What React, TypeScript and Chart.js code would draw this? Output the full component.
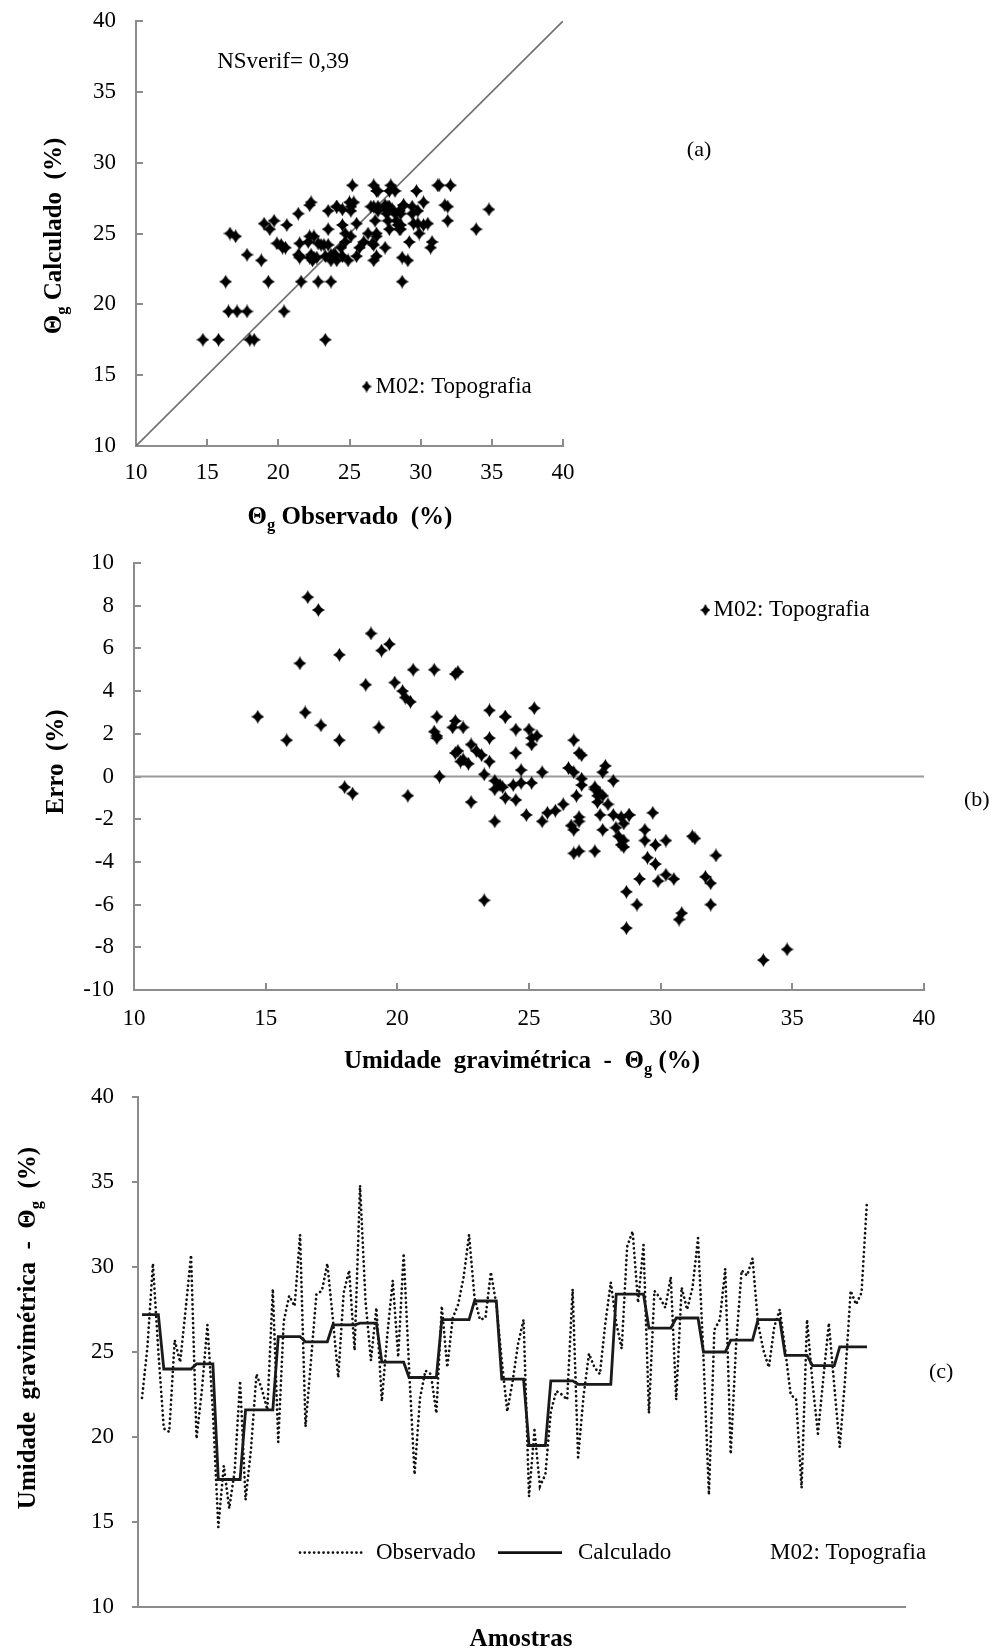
import React, { useEffect, useRef } from 'react';
import { Chart, registerables } from 'chart.js';

Chart.register(...registerables);

// ---- data (sample order follows panel c) ----
const observado: number[] = [
  22.3, 25.3, 30.2, 25.0,
  20.5, 20.3, 25.7, 24.4, 27.5, 30.7,
  19.9, 22.8, 26.6, 21.5,
  14.7, 18.3, 15.8, 18.0, 23.3,
  16.3, 19.3, 23.7, 22.8, 21.6, 28.7,
  19.7, 26.8, 28.3, 27.7, 31.9,
  20.6, 24.5, 28.4, 28.6, 30.2,
  27.0, 23.5, 28.5, 29.8, 25.1,
  34.8, 28.0, 24.5, 27.6,
  22.1, 26.0, 29.2, 24.7, 30.8,
  24.0, 17.8, 22.3, 23.9, 23.7, 21.4,
  27.7, 24.1, 27.0, 27.8, 29.4, 31.9,
  28.2, 26.9, 27.0, 29.7, 27.8,
  24.5, 21.5, 23.3, 25.5, 26.9,
  16.5, 20.4, 17.1, 17.8,
  21.5, 22.7, 22.5, 22.2, 28.7,
  18.8, 22.4, 24.9, 24.1, 23.7, 26.7, 29.1,
  26.7, 25.2, 31.2, 32.1, 27.9, 31.3,
  21.4, 28.6, 28.2, 27.6, 29.4,
  22.2, 28.8, 27.5, 28.8, 31.7,
  24.7, 16.6, 26.3, 26.9, 29.9,
  19.0, 25.5, 29.8, 29.5, 30.5,
  26.7, 25.1, 24.1, 26.5, 27.5,
  25.1, 22.5, 22.2, 17.0, 26.9,
  23.2, 20.2, 23.5, 26.7, 23.0,
  19.4, 23.5, 28.6, 27.8, 28.5, 33.9,
];

const calculado: number[] = [
  27.2, 27.2, 27.2, 27.2,
  24.0, 24.0, 24.0, 24.0, 24.0, 24.0,
  24.3, 24.3, 24.3, 24.3,
  17.5, 17.5, 17.5, 17.5, 17.5,
  21.6, 21.6, 21.6, 21.6, 21.6, 21.6,
  25.9, 25.9, 25.9, 25.9, 25.9,
  25.6, 25.6, 25.6, 25.6, 25.6,
  26.6, 26.6, 26.6, 26.6, 26.6,
  26.7, 26.7, 26.7, 26.7,
  24.4, 24.4, 24.4, 24.4, 24.4,
  23.5, 23.5, 23.5, 23.5, 23.5, 23.5,
  26.9, 26.9, 26.9, 26.9, 26.9, 26.9,
  28.0, 28.0, 28.0, 28.0, 28.0,
  23.4, 23.4, 23.4, 23.4, 23.4,
  19.5, 19.5, 19.5, 19.5,
  23.3, 23.3, 23.3, 23.3, 23.3,
  23.1, 23.1, 23.1, 23.1, 23.1, 23.1, 23.1,
  28.4, 28.4, 28.4, 28.4, 28.4, 28.4,
  26.4, 26.4, 26.4, 26.4, 26.4,
  27.0, 27.0, 27.0, 27.0, 27.0,
  25.0, 25.0, 25.0, 25.0, 25.0,
  25.7, 25.7, 25.7, 25.7, 25.7,
  26.9, 26.9, 26.9, 26.9, 26.9,
  24.8, 24.8, 24.8, 24.8, 24.8,
  24.2, 24.2, 24.2, 24.2, 24.2,
  25.3, 25.3, 25.3, 25.3, 25.3, 25.3,
];

const thetaRange = [10, 40];
const thetaStep = 5;
const erroRange = [-10, 10];
const erroStep = 2;
const linha11 = [10, 40];
const nsVerif = 'NSverif= 0,39';
const serieNome = 'M02: Topografia';
const legObs = 'Observado';
const legCalc = 'Calculado';

const FONT = "'Liberation Serif', 'Times New Roman', serif";
const AXIS = '#8c8c8c';
const W = 997;

Chart.defaults.font.family = FONT;
Chart.defaults.color = '#000';

function makeDiamond(w: number, h: number): HTMLCanvasElement {
  const c = document.createElement('canvas');
  c.width = w;
  c.height = h;
  const g = c.getContext('2d')!;
  const cx = w / 2, cy = h / 2;
  g.fillStyle = '#000';
  g.beginPath();
  g.moveTo(cx, 0);
  g.quadraticCurveTo(cx + w * 0.14, cy - h * 0.14, w, cy);
  g.quadraticCurveTo(cx + w * 0.14, cy + h * 0.14, cx, h);
  g.quadraticCurveTo(cx - w * 0.14, cy + h * 0.14, 0, cy);
  g.quadraticCurveTo(cx - w * 0.14, cy - h * 0.14, cx, 0);
  g.closePath();
  g.fill();
  return c;
}

type Part = { t: string; sub?: boolean };

function drawRich(ctx: CanvasRenderingContext2D, parts: Part[], cx: number, cy: number, size: number, bold: boolean, rotate = false) {
  ctx.save();
  ctx.translate(cx, cy);
  if (rotate) ctx.rotate(-Math.PI / 2);
  const f = (s: number) => `${bold ? 'bold ' : ''}${s}px ${FONT}`;
  let total = 0;
  const widths = parts.map((p) => {
    ctx.font = f(p.sub ? size * 0.66 : size);
    const w = ctx.measureText(p.t).width;
    total += w;
    return w;
  });
  let x = -total / 2;
  ctx.textBaseline = 'middle';
  ctx.textAlign = 'left';
  ctx.fillStyle = '#000';
  parts.forEach((p, i) => {
    ctx.font = f(p.sub ? size * 0.66 : size);
    ctx.fillText(p.t, x, p.sub ? size * 0.32 : 0);
    x += widths[i];
  });
  ctx.restore();
}

function drawText(ctx: CanvasRenderingContext2D, t: string, x: number, y: number, size: number, align: CanvasTextAlign = 'left') {
  ctx.save();
  ctx.font = `${size}px ${FONT}`;
  ctx.fillStyle = '#000';
  ctx.textBaseline = 'middle';
  ctx.textAlign = align;
  ctx.fillText(t, x, y);
  ctx.restore();
}

type Box = { left: number; right: number; top: number; bottom: number; height: number };

function axis(opts: {
  pos: 'left' | 'bottom';
  min: number; max: number; step?: number;
  size: number; tickLen: number; pad: number; labels: boolean; ticks: boolean;
}) {
  return {
    type: 'linear',
    position: opts.pos,
    min: opts.min,
    max: opts.max,
    afterFit: (s: any) => {
      if (opts.pos === 'left') s.width = opts.size; else s.height = opts.size;
      s.paddingTop = 0; s.paddingBottom = 0; s.paddingLeft = 0; s.paddingRight = 0;
    },
    border: { display: true, color: AXIS, width: 2 },
    grid: {
      drawOnChartArea: false,
      drawTicks: opts.ticks,
      tickLength: opts.tickLen,
      color: AXIS,
      lineWidth: 2,
    },
    ticks: {
      display: opts.labels,
      stepSize: opts.step,
      padding: opts.pad,
      font: { family: FONT, size: 23 },
      color: '#000',
      maxRotation: 0,
      autoSkip: false,
    },
  };
}

function layoutFor(b: Box) {
  return {
    autoPadding: false,
    padding: { left: 0, top: b.top, right: W - b.right, bottom: 0 },
  };
}

function useChart(ref: React.RefObject<HTMLCanvasElement>, build: () => any) {
  useEffect(() => {
    if (!ref.current) return;
    const chart = new Chart(ref.current, build());
    return () => chart.destroy();
  }, []);
}

// Panel (a)
const boxA: Box = { left: 136, right: 563, top: 21, bottom: 446, height: 540 };
// Panel (b)  (canvas top 540)
const boxB: Box = { left: 134, right: 924, top: 23, bottom: 450, height: 540 };
// Panel (c)  (canvas top 1080)
const boxC: Box = { left: 138, right: 905, top: 17, bottom: 527, height: 572 };

function PanelA() {
  const ref = useRef<HTMLCanvasElement>(null);
  useChart(ref, () => {
    const diamond = makeDiamond(13, 14);
    const legD = makeDiamond(10, 12);
    const pts = observado.map((o, i) => ({ x: o, y: calculado[i] }));
    return {
      type: 'scatter',
      data: {
        datasets: [
          { type: 'scatter', data: pts, pointStyle: diamond, pointRadius: 6, backgroundColor: '#000', borderColor: '#000' },
          {
            type: 'line',
            data: linha11.map((v) => ({ x: v, y: v })),
            borderColor: '#707070', borderWidth: 1.6, pointRadius: 0, fill: false,
          },
        ],
      },
      options: {
        animation: false, responsive: false, maintainAspectRatio: false,
        layout: layoutFor(boxA),
        plugins: { legend: { display: false }, tooltip: { enabled: false } },
        scales: {
          x: axis({ pos: 'bottom', min: thetaRange[0], max: thetaRange[1], step: thetaStep, size: boxA.height - boxA.bottom, tickLen: -7, pad: 20, labels: true, ticks: true }),
          y: axis({ pos: 'left', min: thetaRange[0], max: thetaRange[1], step: thetaStep, size: boxA.left, tickLen: -7, pad: 27, labels: true, ticks: true }),
        },
      },
      plugins: [{
        id: 'textA',
        afterDraw(c: any) {
          const ctx = c.ctx as CanvasRenderingContext2D;
          const sx = c.scales.x, sy = c.scales.y;
          drawText(ctx, nsVerif, sx.getPixelForValue(15.7), sy.getPixelForValue(37.1), 23);
          drawText(ctx, '(a)', sx.getPixelForValue(48.7), sy.getPixelForValue(30.9), 22);
          const lx = sx.getPixelForValue(26.2), ly = sy.getPixelForValue(14.2);
          ctx.drawImage(legD, lx - 5, ly - 6, 10, 12);
          drawText(ctx, serieNome, lx + 9, ly, 23);
          drawRich(ctx, [{ t: 'Θ' }, { t: 'g', sub: true }, { t: ' Observado  (%)' }], 350, 518, 25, true);
          drawRich(ctx, [{ t: 'Θ' }, { t: 'g', sub: true }, { t: ' Calculado  (%)' }], 55, 236, 25, true, true);
        },
      }],
    };
  });
  return <canvas ref={ref} width={W} height={boxA.height} style={{ position: 'absolute', left: 0, top: 0 }} />;
}

function PanelB() {
  const ref = useRef<HTMLCanvasElement>(null);
  useChart(ref, () => {
    const diamond = makeDiamond(13, 14);
    const legD = makeDiamond(10, 12);
    const pts = observado.map((o, i) => ({ x: o, y: +(calculado[i] - o).toFixed(2) }));
    return {
      type: 'scatter',
      data: {
        datasets: [
          { type: 'scatter', data: pts, pointStyle: diamond, pointRadius: 6, backgroundColor: '#000', borderColor: '#000' },
          {
            type: 'line',
            data: thetaRange.map((v) => ({ x: v, y: 0 })),
            borderColor: '#9a9a9a', borderWidth: 2, pointRadius: 0, fill: false,
          },
        ],
      },
      options: {
        animation: false, responsive: false, maintainAspectRatio: false,
        layout: layoutFor(boxB),
        plugins: { legend: { display: false }, tooltip: { enabled: false } },
        scales: {
          x: axis({ pos: 'bottom', min: thetaRange[0], max: thetaRange[1], step: thetaStep, size: boxB.height - boxB.bottom, tickLen: -7, pad: 22, labels: true, ticks: true }),
          y: axis({ pos: 'left', min: erroRange[0], max: erroRange[1], step: erroStep, size: boxB.left, tickLen: -7, pad: 27, labels: true, ticks: true }),
        },
      },
      plugins: [{
        id: 'textB',
        afterDraw(c: any) {
          const ctx = c.ctx as CanvasRenderingContext2D;
          const sx = c.scales.x, sy = c.scales.y;
          const lx = sx.getPixelForValue(31.7), ly = sy.getPixelForValue(7.8);
          ctx.drawImage(legD, lx - 5, ly - 6, 10, 12);
          drawText(ctx, serieNome, lx + 8, ly, 23);
          drawText(ctx, '(b)', 964, sy.getPixelForValue(-1.1), 22);
          drawRich(ctx, [{ t: 'Erro  (%)' }], 57, 222, 25, true, true);
          drawRich(ctx, [{ t: 'Umidade  gravimétrica  -  Θ' }, { t: 'g', sub: true }, { t: ' (%)' }], 522, 522, 25, true);
        },
      }],
    };
  });
  return <canvas ref={ref} width={W} height={boxB.height} style={{ position: 'absolute', left: 0, top: 540 }} />;
}

function PanelC() {
  const ref = useRef<HTMLCanvasElement>(null);
  useChart(ref, () => {
    const n = observado.length;
    const first = 142, last = 867;
    const pxPer = (last - first) / (n - 1);
    const xMin = -(first - boxC.left) / pxPer;
    const xMax = (n - 1) + (boxC.right - last) / pxPer;
    const obs = observado.map((v, i) => ({ x: i, y: v }));
    const calc = calculado.map((v, i) => ({ x: i, y: v }));
    return {
      type: 'line',
      data: {
        datasets: [
          { label: legCalc, data: calc, borderColor: '#1a1a1a', borderWidth: 2.8, pointRadius: 0, tension: 0, fill: false },
          { label: legObs, data: obs, borderColor: '#111', borderWidth: 2.7, borderDash: [0.1, 4.6], borderCapStyle: 'round', pointRadius: 0, tension: 0, fill: false },
        ],
      },
      options: {
        animation: false, responsive: false, maintainAspectRatio: false,
        layout: layoutFor(boxC),
        plugins: { legend: { display: false }, tooltip: { enabled: false } },
        scales: {
          x: axis({ pos: 'bottom', min: xMin, max: xMax, size: boxC.height - boxC.bottom, tickLen: 0, pad: 0, labels: false, ticks: false }),
          y: axis({ pos: 'left', min: thetaRange[0], max: thetaRange[1], step: thetaStep, size: boxC.left, tickLen: 6, pad: 18, labels: true, ticks: true }),
        },
      },
      plugins: [{
        id: 'textC',
        afterDraw(c: any) {
          const ctx = c.ctx as CanvasRenderingContext2D;
          const sx = c.scales.x, sy = c.scales.y;
          const ly = sy.getPixelForValue(13.2);
          const px = (v: number) => sx.getPixelForValue((v - first) / pxPer);
          ctx.save();
          ctx.strokeStyle = '#111';
          ctx.lineWidth = 2.7;
          ctx.lineCap = 'round';
          ctx.setLineDash([0.1, 4.6]);
          ctx.beginPath(); ctx.moveTo(px(300), ly); ctx.lineTo(px(364), ly); ctx.stroke();
          ctx.setLineDash([]);
          ctx.lineCap = 'butt';
          ctx.lineWidth = 2.8;
          ctx.beginPath(); ctx.moveTo(px(498), ly); ctx.lineTo(px(562), ly); ctx.stroke();
          ctx.restore();
          drawText(ctx, legObs, px(376), ly, 23);
          drawText(ctx, legCalc, px(578), ly, 23);
          drawText(ctx, serieNome, px(770), ly, 23);
          drawText(ctx, '(c)', 929, sy.getPixelForValue(23.8), 22);
          drawRich(ctx, [{ t: 'Umidade  gravimétrica  -  Θ' }, { t: 'g', sub: true }, { t: '  (%)' }], 29, 248, 25, true, true);
          drawRich(ctx, [{ t: 'Amostras' }], 521, 560, 25, true);
        },
      }],
    };
  });
  return <canvas ref={ref} width={W} height={boxC.height} style={{ position: 'absolute', left: 0, top: 1080 }} />;
}

export default function App() {
  return (
    <div style={{ position: 'absolute', left: 0, top: 0, width: W, height: 1652, background: '#fff' }}>
      <PanelA />
      <PanelB />
      <PanelC />
    </div>
  );
}
